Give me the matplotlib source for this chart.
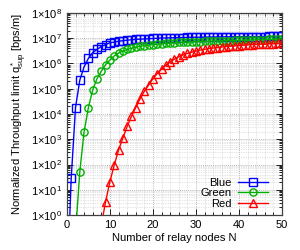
import numpy as np
import matplotlib
matplotlib.use("Agg")
import matplotlib.pyplot as plt
from matplotlib.ticker import LogLocator, FixedLocator, NullFormatter

plt.rcParams['font.family'] = ['Liberation Sans', 'DejaVu Sans']
plt.rcParams['mathtext.fontset'] = 'custom'
plt.rcParams['mathtext.rm'] = 'Liberation Sans'
plt.rcParams['mathtext.it'] = 'Liberation Sans:italic'

# Data
n_blue = list(range(0, 51))
blue = [1e-3, 2.8e1, 1.8e4, 2.2e5, 7.4e5, 1.6e6, 2.7e6, 3.6e6, 4.7e6, 5.6e6, 6.6e6,
        7.0e6, 7.6e6, 8.0e6, 8.4e6, 8.7e6, 9.0e6, 9.2e6, 9.4e6, 9.6e6, 9.8e6,
        1.00e7, 1.02e7, 1.03e7, 1.04e7, 1.05e7, 1.06e7, 1.07e7, 1.08e7, 1.09e7, 1.10e7,
        1.10e7, 1.11e7, 1.12e7, 1.12e7, 1.13e7, 1.13e7, 1.14e7, 1.14e7, 1.15e7, 1.15e7,
        1.16e7, 1.16e7, 1.16e7, 1.17e7, 1.17e7, 1.17e7, 1.18e7, 1.18e7, 1.18e7, 1.19e7]

n_green = list(range(2, 51))
green = [1.8e-1, 5.2e1, 2.0e3, 1.8e4, 9.0e4, 2.5e5, 5.0e5, 9.0e5, 1.38e6, 2.0e6, 2.6e6,
         3.1e6, 3.6e6, 4.0e6, 4.4e6, 4.8e6, 5.1e6, 5.4e6, 5.6e6, 5.8e6, 6.0e6,
         6.2e6, 6.4e6, 6.6e6, 6.8e6, 6.9e6, 7.0e6, 7.2e6, 7.3e6, 7.4e6, 7.5e6,
         7.6e6, 7.7e6, 7.8e6, 7.9e6, 8.0e6, 8.1e6, 8.2e6, 8.3e6, 8.4e6, 8.5e6,
         8.6e6, 8.7e6, 8.8e6, 8.9e6, 9.0e6, 9.1e6, 9.2e6, 9.3e6]

n_red = list(range(8, 51))
red = [4.0e-1, 3.4e0, 2.1e1, 9.5e1, 3.7e2, 1.1e3, 3.2e3, 8.0e3, 1.8e4, 4.0e4, 8.0e4,
       1.4e5, 2.5e5, 4.0e5, 6.0e5, 8.5e5, 1.15e6, 1.5e6, 1.85e6, 2.2e6, 2.5e6,
       2.8e6, 3.1e6, 3.4e6, 3.65e6, 3.9e6, 4.1e6, 4.3e6, 4.5e6, 4.7e6, 4.85e6,
       5.0e6, 5.15e6, 5.3e6, 5.45e6, 5.6e6, 5.7e6, 5.8e6, 5.9e6, 6.0e6, 6.1e6,
       6.2e6, 6.3e6]

ytick_vals = [1e0, 1e1, 1e2, 1e3, 1e4, 1e5, 1e6, 1e7, 1e8]
ytick_labels = [r'1$\times$10$^{%d}$' % k for k in range(0, 9)]
xtick_vals = [0, 10, 20, 30, 40, 50]

fig = plt.figure(figsize=(3.0, 2.5), dpi=100)
ax = fig.add_axes([0.223, 0.14, 0.717, 0.808])

ms = 5.2
ax.plot(n_blue, blue, color='#0000ff', lw=1.0, marker='s', ms=ms, mfc='none', mew=1.0, label='Blue')
ax.plot(n_green, green, color='#00b000', lw=1.0, marker='o', ms=ms, mfc='none', mew=1.0, label='Green')
ax.plot(n_red, red, color='#ff0000', lw=1.0, marker='^', ms=ms, mfc='none', mew=1.0, label='Red')

ax.set_yscale('log')
ax.set_xlim(0, 50)
ax.set_ylim(1e0, 1e8)
ax.set_yticks(ytick_vals)
ax.set_yticklabels(ytick_labels)
ax.yaxis.set_minor_locator(LogLocator(base=10, subs=np.arange(2, 10), numticks=20))
ax.yaxis.set_minor_formatter(NullFormatter())
ax.set_xticks(xtick_vals)
ax.xaxis.set_minor_locator(FixedLocator(np.arange(0, 51, 2)))

ax.grid(True, which='major', color='#a0a0a0', ls=(0, (1, 1.5)), lw=0.6)
ax.grid(True, which='minor', color='#c8c8c8', ls=(0, (1, 1.5)), lw=0.5)

ax.tick_params(which='both', direction='in', top=True, right=True, labelsize=8, width=0.6)
ax.tick_params(which='major', length=4)
ax.tick_params(which='minor', length=2)
for s in ax.spines.values():
    s.set_linewidth(0.9)
    s.set_color('#404040')

ax.set_xlabel('Number of relay nodes N', fontsize=8, labelpad=2)
ax.set_ylabel(r'Normalized Throughput limit q$^*_{\mathrm{sup}}$ [bps/m]', fontsize=8, labelpad=1)

leg = ax.legend(loc='lower right', bbox_to_anchor=(0.935, 0.03), markerfirst=False,
                frameon=False, fontsize=8, handlelength=2.7, handletextpad=0.55,
                labelspacing=0.05, borderpad=0.0, borderaxespad=0.0)

fig.savefig('out.png', dpi=100)
